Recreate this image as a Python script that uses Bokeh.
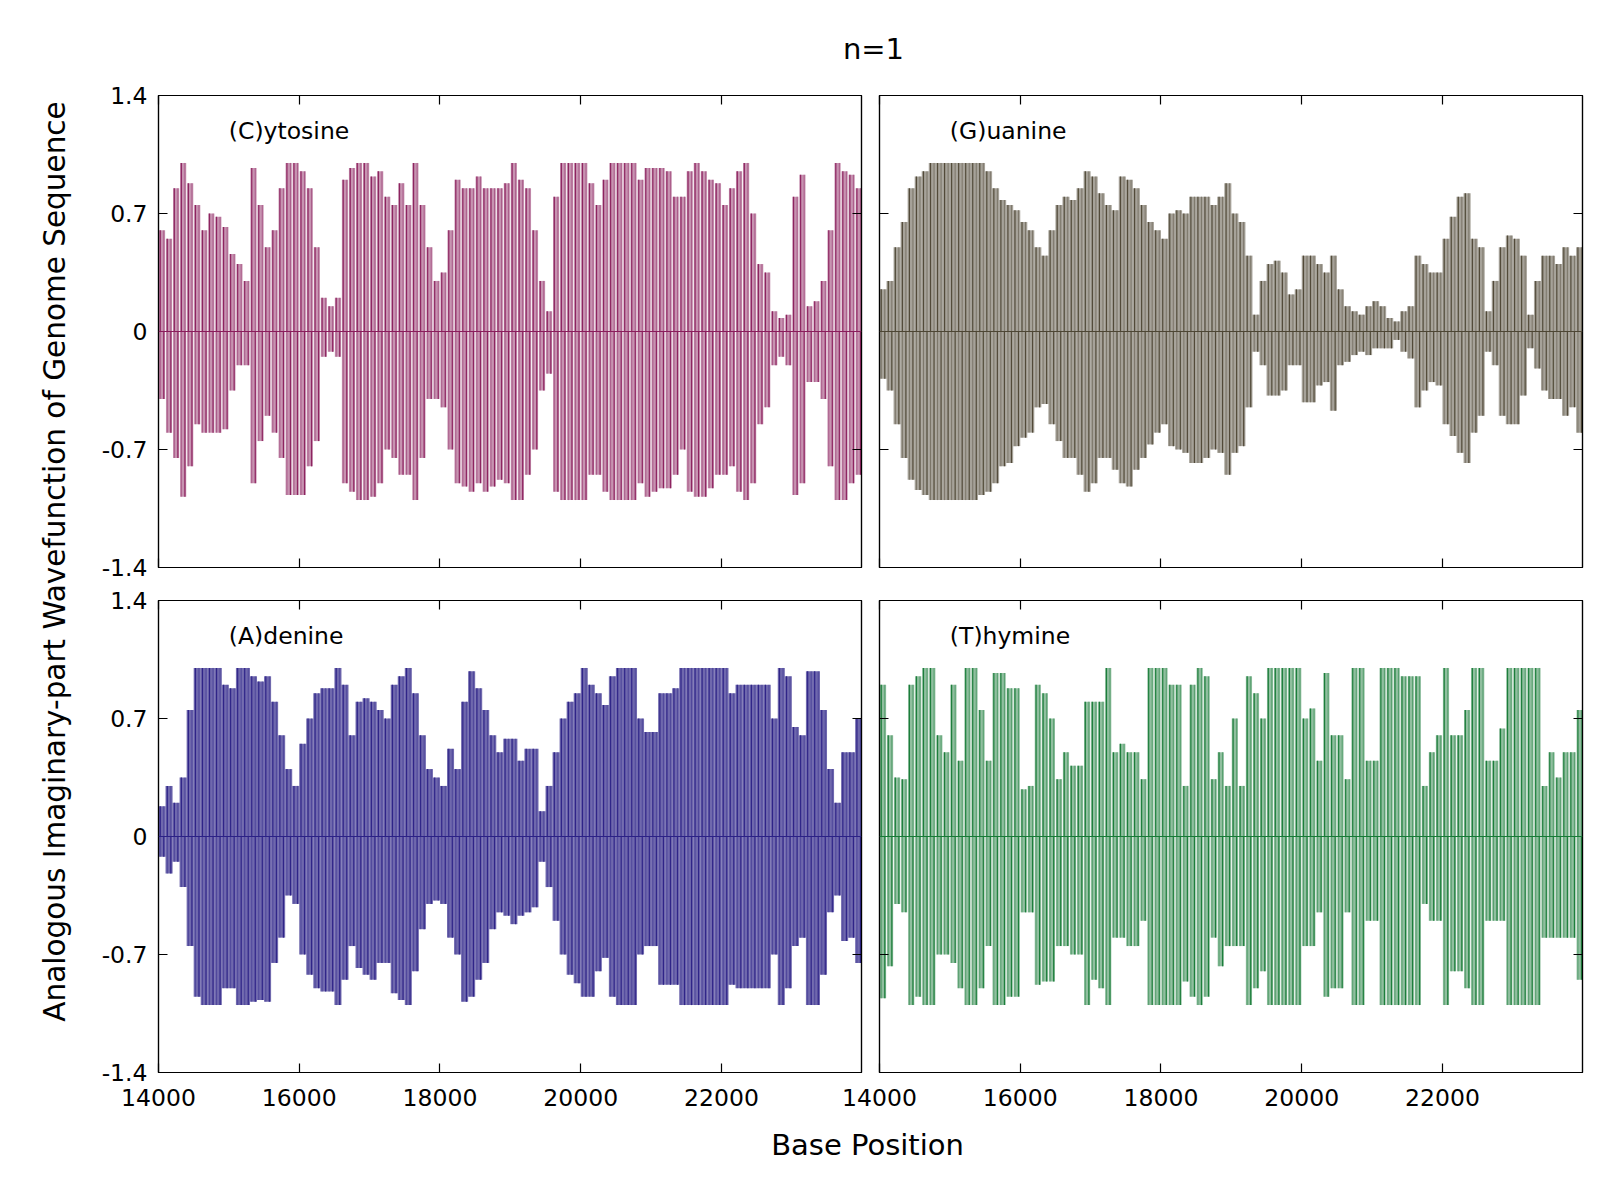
from bokeh.plotting import figure
from bokeh.layouts import row, column
from bokeh.models import Range1d, FixedTicker, LinearAxis, ColumnDataSource, Span
from bokeh.core.properties import value
from bokeh.embed import file_html
from bokeh.resources import INLINE

FONT = "DejaVu Sans"
title_text = "n=1"
x_label = "Base Position"
y_label = "Analogous Imaginary-part Wavefunction of Genome Sequence"

# bin centres (100-base bins) along the genome
base_positions = list(range(14050, 24000, 100))
x_ticks = [14000, 16000, 18000, 20000, 22000]
x_tick_labels = ["14000", "16000", "18000", "20000", "22000"]
y_ticks = [-1.4, -0.7, 0.0, 0.7, 1.4]
y_tick_labels = ["-1.4", "-0.7", "0", "0.7", "1.4"]

# upper envelope (positive impulses) and lower envelope depth (negative impulses)
cytosine_up = [0.6, 0.55, 0.85, 1.0, 0.88, 0.75, 0.6, 0.7, 0.68, 0.62,
               0.46, 0.4, 0.3, 0.97, 0.75, 0.5, 0.6, 0.85, 1.0, 1.0,
               0.95, 0.85, 0.5, 0.2, 0.15, 0.2, 0.9, 0.97, 1.0, 1.0,
               0.92, 0.95, 0.8, 0.75, 0.88, 0.75, 1.0, 0.75, 0.5, 0.3,
               0.35, 0.6, 0.9, 0.85, 0.85, 0.92, 0.85, 0.85, 0.85, 0.88,
               1.0, 0.9, 0.85, 0.6, 0.3, 0.12, 0.8, 1.0, 1.0, 1.0,
               1.0, 0.88, 0.75, 0.9, 1.0, 1.0, 1.0, 1.0, 0.9, 0.97,
               0.97, 0.97, 0.95, 0.8, 0.8, 0.95, 1.0, 0.95, 0.9, 0.88,
               0.75, 0.85, 0.95, 1.0, 0.7, 0.4, 0.35, 0.12, 0.08, 0.1,
               0.8, 0.93, 0.15, 0.18, 0.3, 0.6, 1.0, 0.95, 0.93, 0.85]
cytosine_down = [0.4, 0.6, 0.75, 0.98, 0.8, 0.55, 0.6, 0.6, 0.6, 0.58,
                 0.35, 0.2, 0.2, 0.9, 0.65, 0.5, 0.6, 0.75, 0.97, 0.97,
                 0.97, 0.8, 0.65, 0.15, 0.12, 0.15, 0.9, 0.95, 1.0, 1.0,
                 0.98, 0.9, 0.7, 0.75, 0.85, 0.85, 1.0, 0.75, 0.4, 0.4,
                 0.45, 0.7, 0.9, 0.92, 0.95, 0.9, 0.95, 0.92, 0.88, 0.9,
                 1.0, 1.0, 0.85, 0.7, 0.35, 0.25, 0.95, 1.0, 1.0, 1.0,
                 1.0, 0.85, 0.85, 0.95, 1.0, 1.0, 1.0, 1.0, 0.9, 0.98,
                 0.95, 0.93, 0.93, 0.85, 0.7, 0.95, 0.98, 0.98, 0.93, 0.85,
                 0.85, 0.8, 0.95, 1.0, 0.9, 0.55, 0.45, 0.2, 0.15, 0.2,
                 0.97, 0.9, 0.3, 0.3, 0.4, 0.8, 1.0, 1.0, 0.9, 0.85]

guanine_up = [0.25, 0.3, 0.5, 0.65, 0.85, 0.92, 0.95, 1.0, 1.0, 1.0,
              1.0, 1.0, 1.0, 1.0, 1.0, 0.95, 0.85, 0.78, 0.75, 0.72,
              0.65, 0.6, 0.5, 0.45, 0.6, 0.75, 0.8, 0.78, 0.85, 0.95,
              0.92, 0.82, 0.75, 0.72, 0.92, 0.9, 0.85, 0.75, 0.65, 0.6,
              0.55, 0.7, 0.72, 0.7, 0.8, 0.8, 0.8, 0.75, 0.8, 0.88,
              0.7, 0.65, 0.45, 0.1, 0.3, 0.4, 0.42, 0.35, 0.22, 0.25,
              0.45, 0.45, 0.4, 0.35, 0.45, 0.25, 0.15, 0.12, 0.1, 0.15,
              0.18, 0.15, 0.08, 0.06, 0.12, 0.15, 0.45, 0.4, 0.35, 0.35,
              0.55, 0.68, 0.8, 0.82, 0.55, 0.5, 0.12, 0.3, 0.5, 0.57,
              0.55, 0.45, 0.1, 0.3, 0.45, 0.45, 0.4, 0.5, 0.45, 0.5]
guanine_down = [0.28, 0.35, 0.55, 0.75, 0.88, 0.94, 0.97, 1.0, 1.0, 1.0,
                1.0, 1.0, 1.0, 1.0, 0.97, 0.95, 0.9, 0.8, 0.78, 0.68,
                0.63, 0.6, 0.45, 0.43, 0.55, 0.65, 0.75, 0.75, 0.85, 0.95,
                0.9, 0.75, 0.75, 0.82, 0.9, 0.92, 0.82, 0.75, 0.67, 0.6,
                0.55, 0.68, 0.7, 0.72, 0.78, 0.78, 0.75, 0.7, 0.72, 0.85,
                0.72, 0.68, 0.45, 0.12, 0.2, 0.38, 0.38, 0.35, 0.2, 0.2,
                0.42, 0.42, 0.32, 0.3, 0.47, 0.2, 0.18, 0.14, 0.12, 0.14,
                0.1, 0.1, 0.1, 0.05, 0.12, 0.16, 0.45, 0.35, 0.3, 0.32,
                0.55, 0.62, 0.72, 0.78, 0.6, 0.5, 0.12, 0.2, 0.5, 0.55,
                0.55, 0.38, 0.1, 0.22, 0.35, 0.4, 0.4, 0.5, 0.45, 0.6]

adenine_up = [0.18, 0.3, 0.2, 0.35, 0.75, 1.0, 1.0, 1.0, 1.0, 0.9,
              0.88, 1.0, 1.0, 0.95, 0.92, 0.95, 0.8, 0.6, 0.4, 0.3,
              0.55, 0.7, 0.85, 0.88, 0.88, 1.0, 0.9, 0.6, 0.8, 0.82,
              0.8, 0.75, 0.7, 0.9, 0.95, 1.0, 0.85, 0.6, 0.4, 0.35,
              0.3, 0.52, 0.4, 0.8, 0.98, 0.88, 0.75, 0.6, 0.5, 0.58,
              0.58, 0.45, 0.52, 0.52, 0.15, 0.3, 0.5, 0.7, 0.8, 0.85,
              1.0, 0.9, 0.85, 0.78, 0.95, 1.0, 1.0, 1.0, 0.7, 0.62,
              0.62, 0.85, 0.85, 0.88, 1.0, 1.0, 1.0, 1.0, 1.0, 1.0,
              1.0, 0.85, 0.9, 0.9, 0.9, 0.9, 0.9, 0.7, 1.0, 0.95,
              0.65, 0.6, 0.98, 0.98, 0.75, 0.4, 0.2, 0.5, 0.5, 0.7]
adenine_down = [0.12, 0.22, 0.15, 0.3, 0.65, 0.95, 1.0, 1.0, 1.0, 0.9,
                0.9, 1.0, 1.0, 0.98, 0.97, 0.98, 0.75, 0.6, 0.35, 0.4,
                0.7, 0.82, 0.9, 0.92, 0.92, 1.0, 0.85, 0.65, 0.78, 0.82,
                0.85, 0.75, 0.75, 0.93, 0.97, 1.0, 0.8, 0.55, 0.4, 0.38,
                0.4, 0.6, 0.7, 0.98, 0.95, 0.85, 0.75, 0.55, 0.45, 0.47,
                0.52, 0.47, 0.45, 0.42, 0.15, 0.3, 0.5, 0.7, 0.82, 0.87,
                0.95, 0.95, 0.8, 0.72, 0.95, 1.0, 1.0, 1.0, 0.7, 0.65,
                0.65, 0.88, 0.88, 0.88, 1.0, 1.0, 1.0, 1.0, 1.0, 1.0,
                1.0, 0.88, 0.9, 0.9, 0.9, 0.9, 0.9, 0.7, 1.0, 0.9,
                0.65, 0.6, 1.0, 1.0, 0.82, 0.45, 0.35, 0.62, 0.6, 0.75]

thymine_up = [0.9, 0.6, 0.35, 0.34, 0.9, 0.95, 1.0, 1.0, 0.6, 0.5,
              0.9, 0.45, 1.0, 1.0, 0.75, 0.45, 0.97, 0.97, 0.88, 0.88,
              0.28, 0.3, 0.9, 0.85, 0.7, 0.34, 0.5, 0.42, 0.42, 0.8,
              0.8, 0.8, 1.0, 0.5, 0.55, 0.5, 0.5, 0.34, 1.0, 1.0,
              1.0, 0.9, 0.9, 0.3, 0.9, 1.0, 0.95, 0.34, 0.5, 0.3,
              0.7, 0.3, 0.95, 0.85, 0.7, 1.0, 1.0, 1.0, 1.0, 1.0,
              0.7, 0.76, 0.45, 0.97, 0.6, 0.6, 0.34, 1.0, 1.0, 0.45,
              0.45, 1.0, 1.0, 1.0, 0.95, 0.95, 0.95, 0.3, 0.5, 0.6,
              1.0, 0.6, 0.6, 0.75, 1.0, 1.0, 0.45, 0.45, 0.64, 1.0,
              1.0, 1.0, 1.0, 1.0, 0.3, 0.5, 0.35, 0.5, 0.5, 0.75]
thymine_down = [0.96, 0.77, 0.4, 0.45, 1.0, 0.95, 1.0, 1.0, 0.7, 0.7,
                0.75, 0.9, 1.0, 1.0, 0.9, 0.65, 1.0, 1.0, 0.95, 0.95,
                0.45, 0.45, 0.88, 0.86, 0.86, 0.65, 0.65, 0.7, 0.7, 1.0,
                0.85, 0.9, 1.0, 0.6, 0.6, 0.65, 0.65, 0.5, 1.0, 1.0,
                1.0, 1.0, 1.0, 0.86, 0.95, 1.0, 0.95, 0.6, 0.77, 0.65,
                0.65, 0.65, 1.0, 0.9, 0.8, 1.0, 1.0, 1.0, 1.0, 1.0,
                0.65, 0.65, 0.45, 0.95, 0.9, 0.9, 0.45, 1.0, 1.0, 0.5,
                0.5, 1.0, 1.0, 1.0, 1.0, 1.0, 1.0, 0.4, 0.5, 0.5,
                1.0, 0.8, 0.8, 0.9, 1.0, 1.0, 0.5, 0.5, 0.5, 1.0,
                1.0, 1.0, 1.0, 1.0, 0.6, 0.6, 0.6, 0.6, 0.6, 0.85]

FRAME_W = 703
FRAME_H = 472
BIN = 100


def style_axis(ax, ticks, labels, show, standoff):
    ax.ticker = FixedTicker(ticks=ticks)
    ax.major_label_overrides = {t: (l if show else "") for t, l in zip(ticks, labels)}
    ax.major_tick_in = 9
    ax.major_tick_out = 0
    ax.minor_tick_in = 0
    ax.minor_tick_out = 0
    ax.axis_line_color = "black"
    ax.axis_line_width = 1.2
    ax.major_tick_line_color = "black"
    ax.major_tick_line_width = 1.2
    ax.major_label_text_font = FONT
    ax.major_label_text_font_size = "23.5px"
    ax.major_label_text_color = "black"
    ax.major_label_standoff = standoff if show else 0


def make_panel(name, up, down, color, fill_alpha, fill_frac, left, right, top,
               bottom, xlabels, ylabels, margin=None):
    p = figure(width=left + FRAME_W + right, height=top + FRAME_H + bottom,
               x_range=Range1d(14000, 23990), y_range=Range1d(-1.4, 1.4),
               output_backend="svg", toolbar_location=None,
               x_axis_location=None, y_axis_location=None,
               min_border_left=left, min_border_right=right,
               min_border_top=top, min_border_bottom=bottom)
    p.grid.visible = False
    p.outline_line_color = "black"
    p.outline_line_width = 1.2
    if margin is not None:
        p.margin = margin
        p.border_fill_alpha = 0

    ax_b = LinearAxis()
    ax_t = LinearAxis()
    ax_l = LinearAxis()
    ax_r = LinearAxis()
    style_axis(ax_b, x_ticks, x_tick_labels, xlabels, 16)
    style_axis(ax_t, x_ticks, x_tick_labels, False, 0)
    style_axis(ax_l, y_ticks, y_tick_labels, ylabels, 11)
    style_axis(ax_r, y_ticks, y_tick_labels, False, 0)
    p.add_layout(ax_b, "below")
    p.add_layout(ax_t, "above")
    p.add_layout(ax_l, "left")
    p.add_layout(ax_r, "right")

    src = ColumnDataSource(dict(
        x=base_positions,
        xl=[b - BIN / 4 for b in base_positions],
        xr=[b + BIN / 4 for b in base_positions],
        up=up,
        lo=[-d for d in down],
    ))
    p.vbar(x="x", width=BIN * fill_frac, bottom=0, top="up", source=src,
           fill_color=color, fill_alpha=fill_alpha, line_color=None)
    p.vbar(x="x", width=BIN * fill_frac, bottom="lo", top=0, source=src,
           fill_color=color, fill_alpha=fill_alpha, line_color=None)
    p.segment(x0="xl", y0=0, x1="xl", y1="up", source=src,
              line_color=color, line_width=1.2, line_alpha=0.95)
    p.segment(x0="xr", y0="lo", x1="xr", y1=0, source=src,
              line_color=color, line_width=1.2, line_alpha=0.95)
    p.segment(x0="xr", y0=0, x1="xr", y1="up", source=src,
              line_color=color, line_width=0.8, line_alpha=0.6)
    p.segment(x0="xl", y0="lo", x1="xl", y1=0, source=src,
              line_color=color, line_width=0.8, line_alpha=0.6)
    p.add_layout(Span(location=0, dimension="width", line_color=color,
                      line_width=1.2))
    p.text(x=[15000], y=[1.192], text=[name], text_font=value(FONT),
           text_font_size="23.5px", text_color="black",
           text_align="left", text_baseline="alphabetic")
    return p


def text_fig(w, h, x, y, txt, size, angle=0.0):
    f = figure(width=w, height=h, x_range=Range1d(0, w), y_range=Range1d(0, h),
               output_backend="svg", toolbar_location=None,
               x_axis_type=None, y_axis_type=None, min_border=0)
    f.outline_line_color = None
    f.text(x=[x], y=[y], text=[txt], text_font=value(FONT),
           text_font_size=size, text_color="black", text_align="center",
           text_baseline="alphabetic", angle=angle)
    return f


C_COL = "#8a1d5c"
G_COL = "#4d4634"
A_COL = "#2b2186"
T_COL = "#167a36"

tl = make_panel("(C)ytosine", cytosine_up, cytosine_down, C_COL, 0.48, 0.88,
                80, 9, 20, 16, False, True)
tr = make_panel("(G)uanine", guanine_up, guanine_down, G_COL, 0.5, 1.0,
                9, 10, 20, 16, False, False)
bl = make_panel("(A)denine", adenine_up, adenine_down, A_COL, 0.68, 1.0,
                80, 9, 17, 45, True, True)
br = make_panel("(T)hymine", thymine_up, thymine_down, T_COL, 0.48, 0.88,
                39, 10, 17, 45, True, False, margin=(0, 0, 0, -30))

title_f = text_fig(1514, 75, 795, 27, title_text, "29px")
xlab_f = text_fig(1514, 60, 789, 33, x_label, "29px")
ylab_f = text_fig(78, 1177, 54, 616, y_label, "29.5px", angle=1.5707963267948966)

layout = row(ylab_f, column(title_f, row(tl, tr), row(bl, br), xlab_f))

open("out.html", "w").write(file_html(layout, INLINE, title="n=1"))
